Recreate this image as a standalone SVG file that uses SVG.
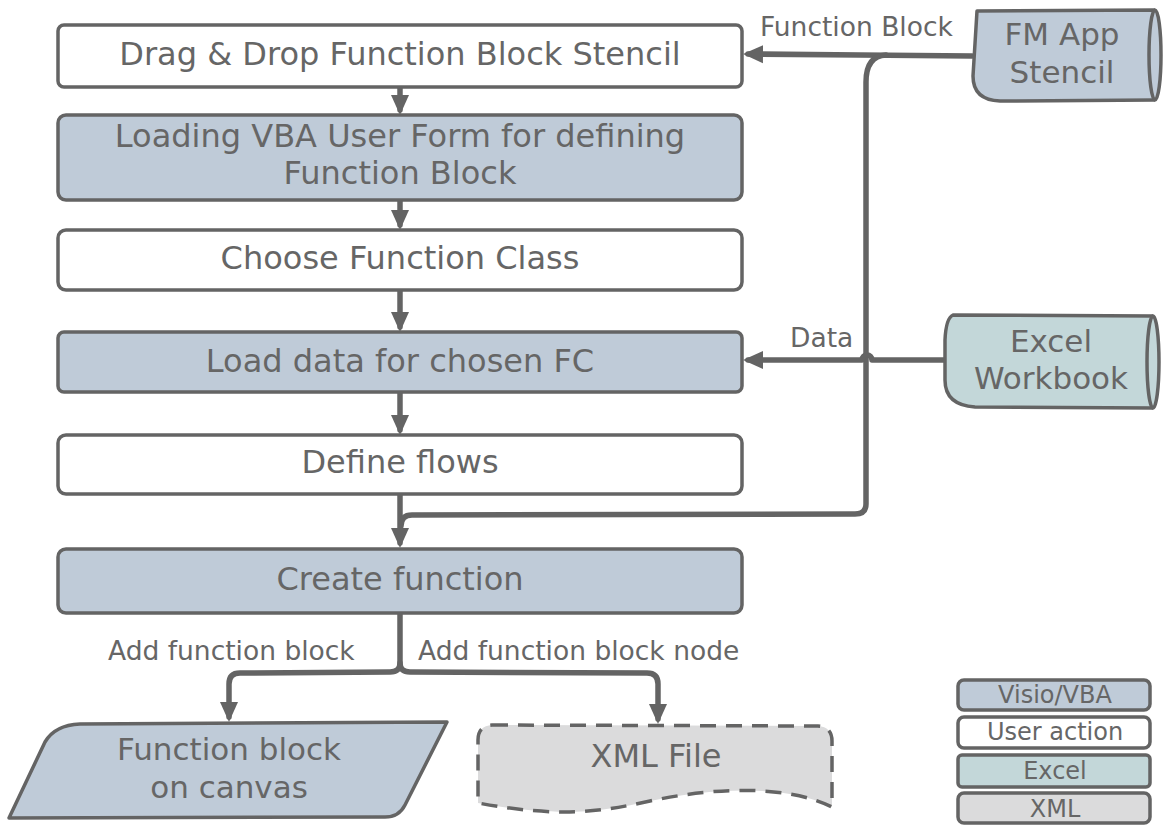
<svg xmlns="http://www.w3.org/2000/svg" width="1164" height="825" viewBox="0 0 1164 825">
<style>
.box{stroke:#646464;stroke-width:3.5;stroke-linejoin:round}
.vba{fill:#bfcbd8}
.usr{fill:#ffffff}
.xls{fill:#c3d7d9}
.xml{fill:#dbdbdc}
.t{font-family:"DejaVu Sans",Verdana,sans-serif;fill:#666666;text-anchor:middle}
.big{font-size:32px}
.mid{font-size:31px}
.lab{font-family:"DejaVu Sans",Verdana,sans-serif;fill:#666666;font-size:26.5px}
.leg{font-size:24px}
.c{fill:none;stroke:#646464;stroke-width:5.5;stroke-linecap:round;stroke-linejoin:round}
</style>
<defs>
<marker id="ah" viewBox="0 0 20 20" refX="15" refY="10" markerWidth="20" markerHeight="20" markerUnits="userSpaceOnUse" orient="auto">
<path d="M0,1 L20,10 L0,19 Z" fill="#646464"/>
</marker>
</defs>
<rect width="1164" height="825" fill="#ffffff"/>

<g id="connectors">
<path class="c" d="M400,87 L400,110" marker-end="url(#ah)"/>
<path class="c" d="M400,200 L400,225" marker-end="url(#ah)"/>
<path class="c" d="M400,290 L400,327" marker-end="url(#ah)"/>
<path class="c" d="M400,392 L400,430" marker-end="url(#ah)"/>
<path class="c" d="M400,494 L400,543" marker-end="url(#ah)"/>
<path class="c" d="M972,56 L860,55 L748,54" marker-end="url(#ah)"/>
<path class="c" d="M886,55 Q866,56 866,82 L866,504 Q866,514 855,514 L412,515 Q401,515 401,526"/>
<path class="c" d="M945,360 L872,360 A5,5 0 0,0 862,360 L748,360" marker-end="url(#ah)"/>
<path class="c" d="M400,613 L400,663 Q400,672 390,672 L240,673 Q229,673 229,684 L229,717" marker-end="url(#ah)"/>
<path class="c" d="M400,663 Q400,672 410,672 L647,673 Q658,673 658,684 L658,719" marker-end="url(#ah)"/>
<text class="lab" x="760" y="36">Function Block</text>
<text class="lab" x="790" y="347">Data</text>
<text class="lab" x="108" y="660">Add function block</text>
<text class="lab" x="418" y="660">Add function block node</text>
</g>

<g id="drag-drop">
<rect class="box usr" x="58" y="25" width="684" height="62" rx="6"/>
<text class="t big" x="400" y="65">Drag &amp; Drop Function Block Stencil</text>
</g>
<g id="loading-form">
<rect class="box vba" x="58" y="115" width="684" height="85" rx="8"/>
<text class="t big" x="400" y="147">Loading VBA User Form for defining</text>
<text class="t big" x="400" y="184">Function Block</text>
</g>
<g id="choose-class">
<rect class="box usr" x="58" y="230" width="684" height="60" rx="8"/>
<text class="t big" x="400" y="269">Choose Function Class</text>
</g>
<g id="load-data">
<rect class="box vba" x="58" y="332" width="684" height="60" rx="6"/>
<text class="t big" x="400" y="372">Load data for chosen FC</text>
</g>
<g id="define-flows">
<rect class="box usr" x="58" y="435" width="684" height="59" rx="8"/>
<text class="t big" x="400" y="473">Define flows</text>
</g>
<g id="create-function">
<rect class="box vba" x="58" y="549" width="684" height="64" rx="8"/>
<text class="t big" x="400" y="590">Create function</text>
</g>

<g id="fm-app-stencil">
<path class="box vba" d="M977,11 L1155,10 A6,45 0 0,1 1155,100 L1000,101 Q973,100 973,76 Z"/>
<path class="box" fill="none" d="M1155,10 A6,45 0 0,0 1155,100"/>
<text class="t mid" x="1062" y="45">FM App</text>
<text class="t mid" x="1062" y="83">Stencil</text>
</g>
<g id="excel-workbook">
<path class="box xls" d="M953,315 L1153,316 A6,46 0 0,1 1153,408 L975,407 Q945,405 945,380 L945,340 Q946,318 953,315 Z"/>
<path class="box" fill="none" d="M1153,316 A6,46 0 0,0 1153,408"/>
<text class="t mid" x="1051" y="352">Excel</text>
<text class="t mid" x="1051" y="389">Workbook</text>
</g>

<g id="function-block-canvas">
<path class="box vba" d="M80,724 L447,722 L405,805 Q399,817 385,817 L9,818 L45,742 Q55,725 80,724 Z"/>
<text class="t mid" x="229" y="760">Function block</text>
<text class="t mid" x="229" y="798">on canvas</text>
</g>
<g id="xml-file">
<path class="box xml" stroke-dasharray="16,10" d="M492,725 L818,726 Q832,727 832,741 L832,807 C790,786 720,786 650,801 C600,812 560,818 478,803 L478,740 Q478,726 492,725 Z"/>
<text class="t big" x="656" y="767">XML File</text>
</g>

<g id="legend">
<g id="legend-visio">
<rect class="box vba" x="958" y="680" width="192" height="30" rx="6"/>
<text class="t leg" x="1055" y="703">Visio/VBA</text>
</g>
<g id="legend-user">
<rect class="box usr" x="958" y="717" width="192" height="31" rx="6"/>
<text class="t leg" x="1055" y="740">User action</text>
</g>
<g id="legend-excel">
<rect class="box xls" x="958" y="755" width="192" height="32" rx="4"/>
<text class="t leg" x="1055" y="779">Excel</text>
</g>
<g id="legend-xml">
<rect class="box xml" x="958" y="793" width="192" height="30" rx="6"/>
<text class="t leg" x="1055" y="817">XML</text>
</g>
</g>
</svg>
